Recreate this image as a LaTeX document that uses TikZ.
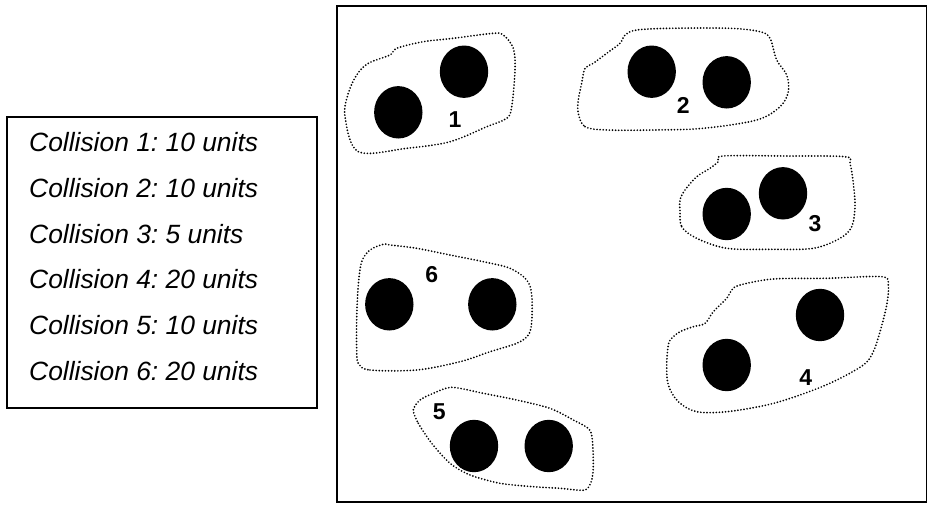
\documentclass[tikz,border=0pt]{standalone}
\usepackage{fontspec}
\setmainfont{Liberation Sans}
\usetikzlibrary{shapes.geometric}
\frenchspacing
\begin{document}
\begin{tikzpicture}[x=1pt,y=-1pt,
  frame/.style={draw=black,line width=1.6pt},
  ball/.style={ellipse,fill=black,draw=none,minimum width=48.4pt,minimum height=52.4pt,inner sep=0pt},
  region/.style={draw=black,line width=1.9pt,line cap=round,dash pattern=on 0pt off 3.1pt},
  tag/.style={font=\fontsize{23}{26}\selectfont\bfseries,inner sep=0pt},
  entry/.style={anchor=base west,font=\fontsize{26.4}{30}\selectfont\itshape,inner sep=0pt}]
\useasboundingbox (0,0) rectangle (928,507);

% legend
\draw[frame] (7,117) rectangle (317,408);
\node[entry] (c1) at (29,151.5) {Collision 1: 10 units};
\node[entry] (c2) at (29,197.3) {Collision 2: 10 units};
\node[entry] (c3) at (29,243.1) {Collision 3: 5 units};
\node[entry] (c4) at (29,288.9) {Collision 4: 20 units};
\node[entry] (c5) at (29,334.7) {Collision 5: 10 units};
\node[entry] (c6) at (29,380.5) {Collision 6: 20 units};

% field
\draw[frame] (337,6) rectangle (926.5,502);

% collision 1
\draw[region] plot[smooth cycle,tension=0.55] coordinates {
 (345,116.7) (358.3,151.7) (406.7,148.3) (450,141.7) (486.7,126.7) (506.7,118.3)
 (511.7,106.7) (515,70) (513.3,48.3) (503.3,35) (493.3,33.3) (453.3,38.3)
 (423.3,41.7) (396.7,48.3) (390,55) (368.3,63.3) (356.7,75) (348.3,93.3)};
\node[ball] (b1a) at (398.3,112.3) {};
\node[ball] (b1b) at (464,71.7) {};
\node[tag] (t1) at (455,120) {1};

% collision 2
\draw[region] plot[smooth cycle,tension=0.55] coordinates {
 (578.3,113.3) (585,126.7) (606.7,130) (653.3,130) (703.3,128.3) (756.7,120)
 (780,106.7) (788.3,91.7) (786.7,75) (776.7,60) (770,38.3) (760,31.7)
 (730,28.3) (670,28.3) (636.7,30) (625,35) (620,43.3) (606.7,53.3)
 (593.3,63.3) (585,68.3) (581.7,83.3) (578.3,100)};
\node[ball] (b2a) at (651.7,71.7) {};
\node[ball] (b2b) at (726.7,82.3) {};
\node[tag] (t2) at (683.3,105) {2};

% collision 3
\draw[region] plot[smooth cycle,tension=0.55] coordinates {
 (680,210) (681.7,226.7) (696.7,238.3) (726.7,248.3) (770,249.3) (813.3,248.3)
 (840,238.3) (851.7,226.7) (855,206.7) (853.3,183.3) (850,163.3) (845,156.7)
 (786.7,156) (723.3,156) (718.3,161.7) (710,168.3) (696.7,176.7) (685,190) (680,200)};
\node[ball] (b3a) at (726.7,214) {};
\node[ball] (b3b) at (783,193.3) {};
\node[tag] (t3) at (815,224) {3};

% collision 6
\draw[region] plot[smooth cycle,tension=0.55] coordinates {
 (358.3,363.3) (370,370) (416.7,370) (460,361.7) (490,351.7) (516.7,343.3)
 (528.3,335) (531.7,321.7) (531.7,295) (526.7,280) (510,268.3) (483.3,261.7)
 (450,255) (416.7,248.3) (390,245) (383.3,244.3) (370,250) (361.7,261.7)
 (358.3,285) (356.7,318.3) (356.7,348.3)};
\node[ball] (b6a) at (389.3,304.3) {};
\node[ball] (b6b) at (492.3,304.3) {};
\node[tag] (t6) at (431.7,274.3) {6};

% collision 4
\draw[region] plot[smooth cycle,tension=0.55] coordinates {
 (668.3,345) (666.7,365) (668.3,385) (678.3,401.7) (696.7,411.7) (726.7,411.7)
 (766.7,405) (800,395) (833.3,381.7) (863.3,365) (873.3,351.7) (880,331.7)
 (886.7,305) (888.3,285) (881.7,276.7) (826.7,278.3) (773.3,279) (740,285)
 (731.7,290) (726.7,298.3) (713.3,311.7) (705,323.3) (693.3,326.7) (680,331.7) (671.7,338.3)};
\node[ball] (b4a) at (726.7,365) {};
\node[ball] (b4b) at (820,315) {};
\node[tag] (t4) at (805.7,377.7) {4};

% collision 5
\draw[region] plot[smooth cycle,tension=0.45] coordinates {
 (413.3,410) (418.3,423.3) (431.7,443.3) (450,463.3) (470,475) (500,483.3)
 (533.3,486.7) (560,488.3) (585,490) (591.7,480) (593.3,463.3) (590.7,431.7)
 (573.3,420) (550,408.3) (516.7,400) (483.3,393.3) (451.7,387.3) (433.3,393.3) (420,400)};
\node[ball] (b5a) at (474,446) {};
\node[ball] (b5b) at (548.7,446) {};
\node[tag] (t5) at (439.3,411.7) {5};
\end{tikzpicture}
\end{document}
